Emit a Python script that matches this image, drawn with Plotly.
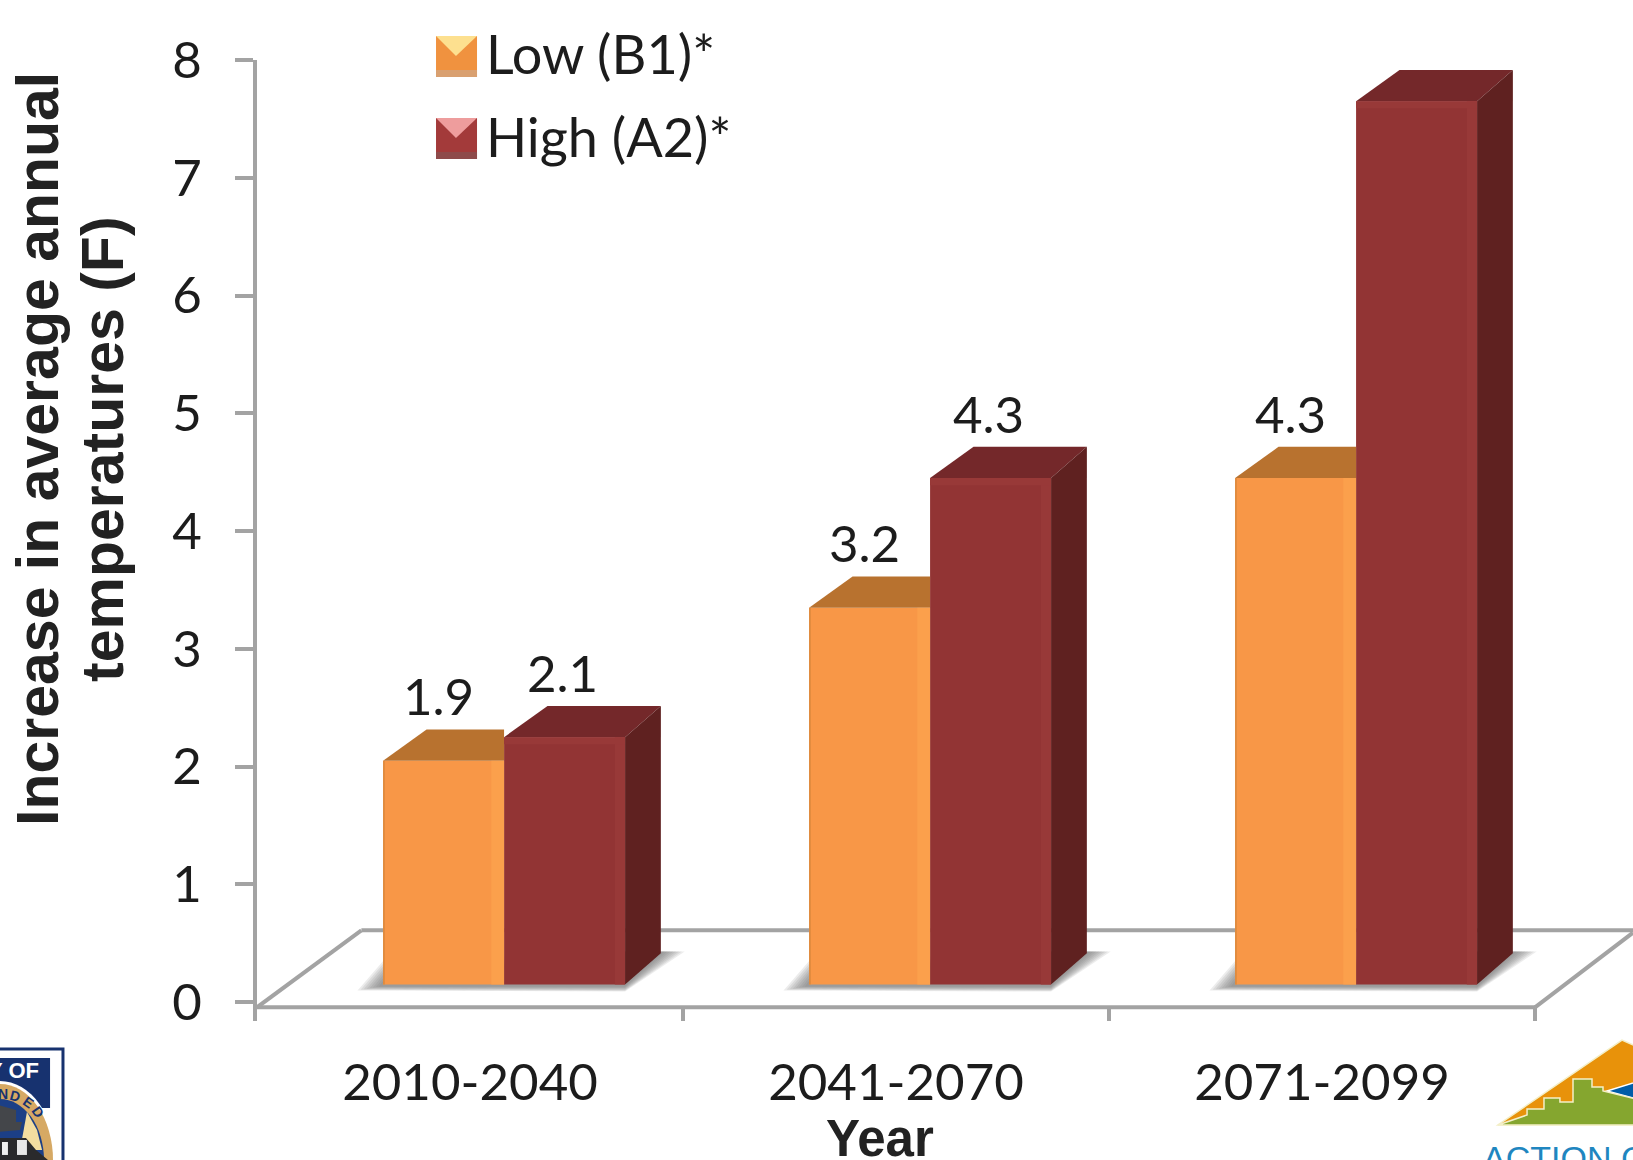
import plotly.graph_objects as go

periods = ["2010-2040", "2041-2070", "2071-2099"]
low_b1 = [1.9, 3.2, 4.3]
high_a2 = [2.1, 4.3, 7.5]
y_ticks = [0, 1, 2, 3, 4, 5, 6, 7, 8]

WIDTH, HEIGHT = 1633, 1160
M_L, M_R, M_T, M_B = 257, 0, 60, 139
UNIT_X = 426.0
X_MIN = -0.5
X_MAX = X_MIN + (WIDTH - M_L - M_R) / UNIT_X
Y_MIN, Y_MAX = -0.16, 8.0

# Pseudo-3D geometry, in axis units
LIFT = 0.15          # front faces stand slightly above the axis zero
BAR_W = 0.284
GROUP_SHIFT = 0.08
DX, DX_LEFT, DY = 0.084, 0.102, 0.265
FLOOR_FRONT, FLOOR_BACK = -0.044, 0.61

ORANGE, ORANGE_TOP, ORANGE_EDGE, ORANGE_DARK = "#F89747", "#B8722F", "#FBA04C", "#DD8A3E"
RED, RED_TOP, RED_SIDE, RED_EDGE = "#923434", "#74282A", "#5F2120", "#983938"
AXIS = "#A3A3A3"
FONT = "Lato, Carlito, sans-serif"
TEXT = "#1c1c1c"
TITLE_COLOR = "#222222"


def px(x):
    return (x - M_L) / (WIDTH - M_L - M_R)


def py(y):
    return 1 - (y - M_T) / (HEIGHT - M_T - M_B)


def poly(points):
    return "M" + " L".join(f"{a:.4f},{b:.4f}" for a, b in points) + " Z"


def paper_poly(points, color, line=None, width=0):
    return dict(type="path", xref="paper", yref="paper", layer="above",
                path=poly([(px(a), py(b)) for a, b in points]),
                fillcolor=color,
                line=dict(color=line or color, width=width))


def paper_ellipse(cx, cy, rx, ry, color, line=None, width=0):
    return dict(type="circle", xref="paper", yref="paper", layer="above",
                x0=px(cx - rx), x1=px(cx + rx), y0=py(cy + ry), y1=py(cy - ry),
                fillcolor=color, line=dict(color=line or color, width=width))


def paper_text(x, y, text, size, color, family=FONT, xanchor="center", yanchor="middle",
               angle=0, weight=None):
    font = dict(family=family, size=size, color=color)
    if weight:
        font["weight"] = weight
    return dict(x=px(x), y=py(y), xref="paper", yref="paper", text=text, showarrow=False,
                xanchor=xanchor, yanchor=yanchor, textangle=angle, font=font)


def face(points, color):
    return go.Scatter(x=[p[0] for p in points] + [points[0][0]],
                      y=[p[1] for p in points] + [points[0][1]],
                      mode="lines", fill="toself", fillcolor=color,
                      line=dict(width=0, color=color),
                      hoverinfo="skip", showlegend=False)


centers = list(range(len(periods)))
low_x = [c + GROUP_SHIFT - BAR_W / 2 for c in centers]
high_x = [c + GROUP_SHIFT + BAR_W / 2 for c in centers]

fig = go.Figure()
fig.add_bar(x=low_x, y=low_b1, base=LIFT, width=BAR_W, name="Low (B1)*",
            marker=dict(color=ORANGE, line=dict(width=0)), showlegend=False)
fig.add_bar(x=high_x, y=high_a2, base=LIFT, width=BAR_W, name="High (A2)*",
            marker=dict(color=RED, line=dict(width=0)), showlegend=False)

shapes = []
line_style = dict(color=AXIS, width=4)

# Floor of the chart, behind the bars
floor_back_left = X_MIN + 0.245
for a, b in [((X_MIN, FLOOR_FRONT), (2.5, FLOOR_FRONT)),
             ((X_MIN, FLOOR_FRONT), (floor_back_left, FLOOR_BACK)),
             ((floor_back_left, FLOOR_BACK), (X_MAX, FLOOR_BACK)),
             ((2.5, FLOOR_FRONT), (X_MAX, FLOOR_BACK - 0.02))]:
    shapes.append(dict(type="line", xref="x", yref="y", layer="below",
                       x0=a[0], y0=a[1], x1=b[0], y1=b[1], line=line_style))
for edge in [0.5, 1.5, 2.5]:
    shapes.append(dict(type="line", xref="x", yref="y", layer="below",
                       x0=edge, x1=edge, y0=FLOOR_FRONT, y1=Y_MIN, line=line_style))

# Soft ground shadow under each pair of bars, built up from translucent layers
for c in centers:
    left = c + GROUP_SHIFT - BAR_W
    right = c + GROUP_SHIFT + BAR_W
    for grow in (1.0, 0.88, 0.76, 0.64, 0.52, 0.4, 0.28, 0.16):
        shapes.append(dict(
            type="path", xref="x", yref="y", layer="below",
            path=poly([(left, LIFT + 0.2 * grow),
                       (left - 0.06 * grow, LIFT - 0.01 - 0.04 * grow),
                       (right, LIFT - 0.01 - 0.05 * grow),
                       (right + DX + 0.056 * grow, LIFT + 0.28),
                       (right, LIFT + 0.28)]),
            fillcolor="rgba(110,110,110,0.13)", line=dict(width=0)))

# Side and top faces follow each bar's value
for c, lo, hi in zip(centers, low_b1, high_a2):
    x0 = c + GROUP_SHIFT - BAR_W
    xm = c + GROUP_SHIFT
    x1 = c + GROUP_SHIFT + BAR_W
    lo_top, hi_top = lo + LIFT, hi + LIFT
    fig.add_trace(face([(x0, lo_top), (x0 + DX_LEFT, lo_top + DY),
                        (xm, lo_top + DY), (xm, lo_top)], ORANGE_TOP))
    fig.add_trace(face([(xm, hi_top), (xm + DX_LEFT, hi_top + DY),
                        (x1 + DX, hi_top + DY), (x1, hi_top)], RED_TOP))
    fig.add_trace(face([(x1, LIFT), (x1 + DX, LIFT + DY),
                        (x1 + DX, hi_top + DY), (x1, hi_top)], RED_SIDE))
    # Bevel strips along the edges of each front face
    fig.add_trace(face([(xm - 0.03, LIFT), (xm, LIFT), (xm, lo_top), (xm - 0.03, lo_top)], ORANGE_EDGE))
    fig.add_trace(face([(x1 - 0.024, LIFT), (x1, LIFT), (x1, hi_top), (x1 - 0.024, hi_top)], RED_EDGE))
    fig.add_trace(face([(x0, LIFT), (x0 + 0.004, LIFT), (x0 + 0.004, lo_top), (x0, lo_top)], ORANGE_DARK))
    fig.add_trace(face([(xm, hi_top - 0.06), (x1, hi_top - 0.06), (x1, hi_top), (xm, hi_top)], RED_EDGE))

annotations = []
for xs, vals, nudge in [(low_x, low_b1, -0.012), (high_x, high_a2, -0.005)]:
    for x, v in zip(xs, vals):
        annotations.append(dict(x=x + nudge, y=v + LIFT + 0.55, xref="x", yref="y",
                                text=f"{v:.1f}", showarrow=False,
                                font=dict(family=FONT, size=51, color=TEXT)))

# Axis titles
annotations.append(paper_text(38, 449, "Increase in average annual", 59, TITLE_COLOR,
                              "Liberation Sans", angle=-90, weight="bold"))
annotations.append(paper_text(103, 449, "temperatures (F)", 59, TITLE_COLOR,
                              "Liberation Sans", angle=-90, weight="bold"))
annotations.append(paper_text(880, 1138, "Year", 51, TITLE_COLOR, "Liberation Sans", weight="bold"))

# Legend: bevelled swatches with their labels
for top, name, base, light, low_band in [
        (36, "Low (B1)*", "#F0923F", "#FDE08F", "#D9A070"),
        (118, "High (A2)*", "#A33A3A", "#EE9D9D", "#8E4A4A")]:
    shapes.append(paper_poly([(436, top), (477, top), (477, top + 41), (436, top + 41)], base))
    shapes.append(paper_poly([(436, top), (477, top), (456, top + 20)], light))
    shapes.append(paper_poly([(436, top + 34), (477, top + 34), (477, top + 41), (436, top + 41)], low_band))
    annotations.append(paper_text(484, top + 18, name, 54, TEXT, xanchor="left"))

# City seal, cut off by the lower left corner
shapes += [
    paper_poly([(-4, 1049), (63, 1049), (63, 1170), (-4, 1170)], "#FFFFFF", "#17326F", 3),
    paper_poly([(-4, 1058), (50, 1058), (50, 1108), (-4, 1108)], "#17326F"),
    paper_ellipse(0, 1160, 56, 79, "#FFFFFF"),
    paper_ellipse(0, 1160, 53, 76, "#D6A964"),
    paper_ellipse(0, 1160, 44, 61, "#1C3F86"),
    paper_poly([(27, 1112), (37, 1130), (42, 1150), (20, 1150)], "#F3DDA0"),
    paper_poly([(-2, 1105), (16, 1110), (16, 1122), (22, 1122), (20, 1130), (-2, 1132)], "#44464A"),
    paper_poly([(-2, 1138), (26, 1138), (36, 1150), (48, 1160), (-2, 1162)], "#2A2A2C"),
    paper_poly([(2, 1142), (8, 1142), (8, 1155), (2, 1155)], "#F0F0F0"),
    paper_poly([(17, 1140), (27, 1140), (27, 1155), (17, 1155)], "#E8E8E8"),
]
annotations.append(paper_text(13, 1070, "Y OF", 22, "#FFFFFF", "Liberation Sans", weight="bold"))
for x, y, letter, turn in [(3, 1094, "N", 0), (15, 1096, "D", 15), (28, 1102, "E", 35), (38, 1112, "D", 55)]:
    annotations.append(paper_text(x, y, letter, 14, "#17326F", "Liberation Sans", angle=turn, weight="bold"))

# Climate action logo, cut off by the lower right corner
shapes += [
    paper_poly([(1498, 1125), (1622, 1040), (1640, 1048), (1640, 1125)], "#E8920A", "#F3EFC8", 1.5),
    paper_poly([(1607, 1091), (1640, 1081), (1640, 1100)], "#005DA8", "#FFFFFF", 1.5),
    paper_poly([(1498, 1125), (1527, 1115), (1527, 1109), (1544, 1109), (1544, 1098), (1560, 1098),
                (1560, 1102), (1573, 1102), (1573, 1079), (1592, 1079), (1592, 1087),
                (1603, 1087), (1603, 1091), (1640, 1100), (1640, 1125)], "#85A62F", "#F3EFC8", 1.5),
]
annotations.append(paper_text(1481, 1137, "ACTION C", 34, "#1F86C0", "Liberation Sans",
                              xanchor="left", yanchor="top"))

fig.update_layout(
    width=WIDTH, height=HEIGHT,
    margin=dict(l=M_L, r=M_R, t=M_T, b=M_B, pad=0),
    paper_bgcolor="white", plot_bgcolor="white",
    barmode="overlay", showlegend=False,
    shapes=shapes, annotations=annotations,
    xaxis=dict(range=[X_MIN, X_MAX], tickmode="array", tickvals=centers, ticktext=periods,
               showgrid=False, zeroline=False, showline=False, ticks="",
               ticklabelstandoff=27, tickfont=dict(family=FONT, size=51, color=TEXT)),
    yaxis=dict(range=[Y_MIN, Y_MAX], tickmode="array", tickvals=y_ticks,
               showgrid=False, zeroline=False, showline=True, linecolor=AXIS, linewidth=4,
               ticks="outside", ticklen=18, tickwidth=4, tickcolor=AXIS,
               ticklabelstandoff=23, tickfont=dict(family=FONT, size=51, color=TEXT)),
)

fig.write_html("out.html")
